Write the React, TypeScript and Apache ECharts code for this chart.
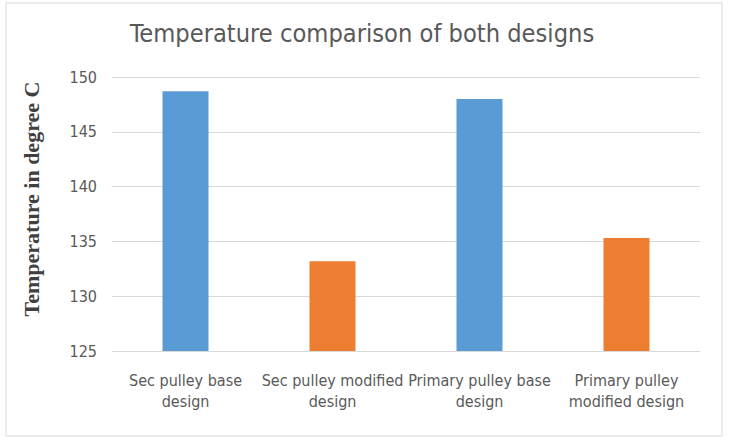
import React, { useEffect, useRef } from "react";
import * as echarts from "echarts";

const categories = [
  "Sec pulley base\ndesign",
  "Sec pulley modified\ndesign",
  "Primary pulley base\ndesign",
  "Primary pulley\nmodified design",
];
const values = [148.7, 133.2, 148.0, 135.3];
const barColors = ["#5B9BD5", "#ED7D31", "#5B9BD5", "#ED7D31"];
const titleText = "Temperature comparison of both designs";
const yAxisName = "Temperature in degree C";

export default function App() {
  const ref = useRef<HTMLDivElement>(null);
  useEffect(() => {
    document.body.style.margin = "0";
    const chart = echarts.init(ref.current!, null, { renderer: "svg" });
    chart.setOption({
      animation: false,
      backgroundColor: "#ffffff",
      title: {
        text: titleText,
        left: 357,
        top: 16,
        textAlign: "center",
        textStyle: {
          fontFamily: "DejaVu Sans Condensed, DejaVu Sans",
          fontWeight: "normal",
          fontSize: 25.2,
          color: "#595959",
        },
      },
      graphic: [
        {
          type: "rect",
          shape: { x: 6, y: 3, width: 716, height: 433 },
          style: { fill: "none", stroke: "#d9d9d9", lineWidth: 1 },
          silent: true,
        },
        {
          type: "text",
          x: 31,
          y: 199,
          rotation: Math.PI / 2,
          style: {
            text: yAxisName,
            fontFamily: "Liberation Serif, serif",
            fontWeight: "bold",
            fontSize: 22,
            fill: "#404040",
            align: "center",
            verticalAlign: "middle",
          },
          silent: true,
        },
      ],
      grid: { left: 112, right: 30, top: 77, bottom: 95, containLabel: false },
      xAxis: {
        type: "category",
        data: categories,
        axisLine: { show: true, lineStyle: { color: "#d9d9d9" } },
        axisTick: { show: false },
        axisLabel: {
          interval: 0,
          color: "#595959",
          fontSize: 16,
          lineHeight: 21,
          margin: 19,
          fontFamily: "DejaVu Sans Condensed, DejaVu Sans",
        },
      },
      yAxis: {
        type: "value",
        min: 125,
        max: 150,
        interval: 5,
        axisLine: { show: false },
        axisTick: { show: false },
        splitLine: { lineStyle: { color: "#d9d9d9" } },
        axisLabel: {
          color: "#595959",
          fontSize: 16,
          margin: 15,
          fontFamily: "DejaVu Sans Condensed, DejaVu Sans",
        },
      },
      series: [
        {
          type: "bar",
          barWidth: 46,
          data: values.map((v, i) => ({ value: v, itemStyle: { color: barColors[i] } })),
        },
      ],
    });
    return () => chart.dispose();
  }, []);
  return <div ref={ref} style={{ width: 730, height: 446 }} />;
}
